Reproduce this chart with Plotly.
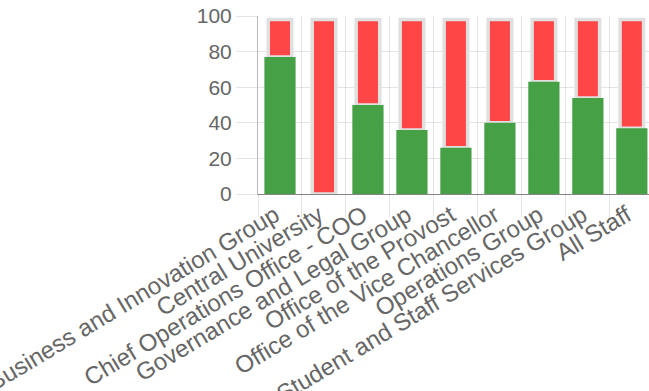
import plotly.graph_objects as go

# Survey results by group (percent)
groups = [
    "Business and Innovation Group",
    "Central University",
    "Chief Operations Office - COO",
    "Governance and Legal Group",
    "Office of the Provost",
    "Office of the Vice Chancellor",
    "Operations Group",
    "Student and Staff Services Group",
    "All Staff",
]
positive = [77, 0, 50, 36, 26, 40, 63, 54, 37]
negative = [21, 98, 48, 62, 72, 58, 35, 44, 61]

y_ticks = [0, 20, 40, 60, 80, 100]

GREEN = "#46a146"
RED = "#fe4646"
GRID = "rgba(0,0,0,0.10)"
AXIS = "rgba(0,0,0,0.28)"
TEXT = "#666666"
FONT = "Liberation Sans, Arial, Helvetica, sans-serif"

fig = go.Figure()

# negative share, stacked above the positive share
fig.add_trace(go.Bar(
    x=groups,
    y=negative,
    base=positive,
    width=0.535,
    marker=dict(color=RED, line=dict(color="#e0e0e0", width=3.5)),
    name="No",
))

# positive share, from zero
fig.add_trace(go.Bar(
    x=groups,
    y=positive,
    width=0.71,
    marker=dict(color=GREEN, line=dict(width=0)),
    name="Yes",
))

fig.update_layout(
    width=649,
    height=391,
    margin=dict(l=258, r=0, t=16, b=197),
    barmode="overlay",
    showlegend=False,
    plot_bgcolor="white",
    paper_bgcolor="white",
    font=dict(family=FONT, color=TEXT),
    xaxis=dict(
        type="category",
        range=[-0.5, 8.39],
        automargin=False,
        tickson="boundaries",
        showgrid=True,
        gridcolor=GRID,
        gridwidth=1,
        ticks="outside",
        ticklen=22,
        tickcolor=GRID,
        tickangle=-31,
        ticklabelshift=-5,
        ticklabelstandoff=-3,
        tickfont=dict(size=24, color=TEXT, family=FONT),
        showline=True,
        linecolor=AXIS,
        linewidth=1,
        zeroline=False,
    ),
    yaxis=dict(
        range=[0, 100],
        tickvals=y_ticks,
        automargin=False,
        showgrid=True,
        gridcolor=GRID,
        gridwidth=1,
        ticks="outside",
        ticklen=21,
        tickcolor=GRID,
        tickfont=dict(size=21, color=TEXT, family=FONT),
        showline=True,
        linecolor=AXIS,
        linewidth=1,
        zeroline=True,
        zerolinecolor=AXIS,
        zerolinewidth=1,
    ),
)

fig.write_html("out.html")
